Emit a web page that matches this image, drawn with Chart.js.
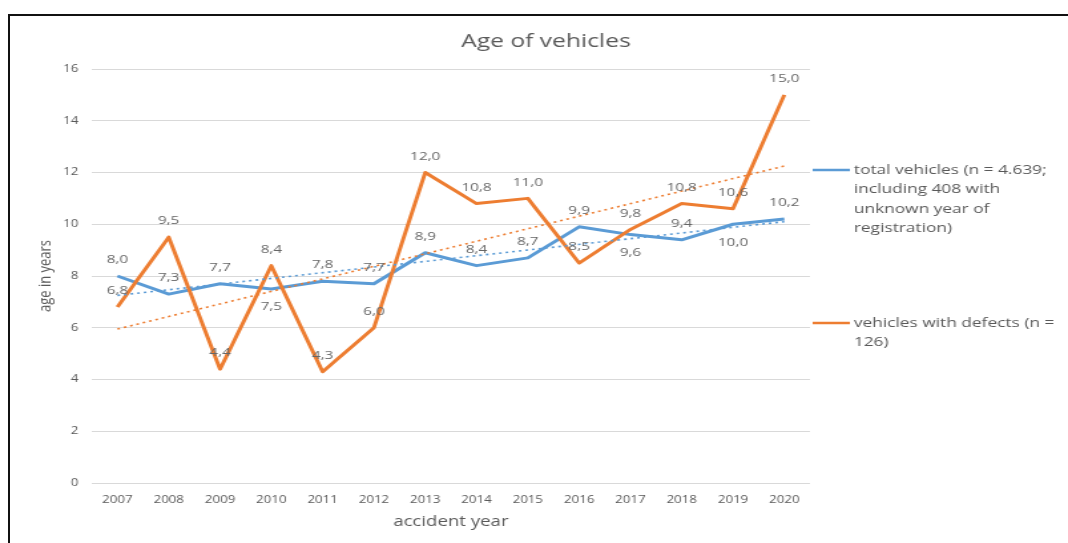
<!DOCTYPE html>
<html>
<head>
<meta charset="utf-8">
<script src="https://cdn.jsdelivr.net/npm/chart.js@4"></script>
<style>
    body { margin: 0; background: #fff; overflow: hidden; }
    #frame {
        position: absolute; left: 8px; top: 14px; width: 1080px; height: 560px;
        border-top: 2px solid #111; border-left: 2px solid #111;
    }
    #chart {
        position: absolute; left: 0; top: 0; width: 803px; height: 543px;
        transform: scaleX(1.33); transform-origin: 0 0;
    }
</style>
</head>
<body>
<canvas id="chart" width="803" height="543"></canvas>
<div id="frame"></div>
<script>
const years = ['2007', '2008', '2009', '2010', '2011', '2012', '2013', '2014', '2015', '2016', '2017', '2018', '2019', '2020'];
const totalVehicles = [8.0, 7.3, 7.7, 7.5, 7.8, 7.7, 8.9, 8.4, 8.7, 9.9, 9.6, 9.4, 10.0, 10.2];
const defectVehicles = [6.8, 9.5, 4.4, 8.4, 4.3, 6.0, 12.0, 10.8, 11.0, 8.5, 9.8, 10.8, 10.6, 15.0];
// dotted trend lines, start and end
const totalTrendEnds = [7.25, 10.1];
const defectTrendEnds = [5.95, 12.25];
const yTicks = [0, 2, 4, 6, 8, 10, 12, 14, 16];

const totalLegend = ['total vehicles (n = 4.639;', 'including 408 with', 'unknown year of', 'registration)'];
const defectLegend = ['vehicles with defects (n =', '126)'];
// labels of the blue series that sit under the line
const totalLabelsBelow = [3, 10, 12];

const grey = '#595959';
const blue = '#5B9BD5';
const orange = '#ED7D31';
const fontFamily = "'Open Sans', sans-serif";

function endsOnly(ends) {
    return years.map(function (y, i) {
        if (i === 0) return ends[0];
        if (i === years.length - 1) return ends[1];
        return null;
    });
}

const extras = {
    id: 'extras',
    afterDatasetsDraw: function (chart) {
        const ctx = chart.ctx;
        ctx.save();
        ctx.font = '11.5px ' + fontFamily;
        ctx.fillStyle = '#666';
        ctx.textAlign = 'center';
        ctx.textBaseline = 'middle';
        [2, 3].forEach(function (di) {
            const meta = chart.getDatasetMeta(di);
            const values = chart.data.datasets[di].data;
            meta.data.forEach(function (pt, i) {
                const below = di === 3 && totalLabelsBelow.indexOf(i) >= 0;
                const text = values[i].toFixed(1).replace('.', ',');
                ctx.fillText(text, pt.x, below ? pt.y + 18 : pt.y - 16);
            });
        });
        ctx.restore();
    },
    afterDraw: function (chart) {
        const ctx = chart.ctx;
        ctx.save();
        ctx.fillStyle = grey;
        ctx.textBaseline = 'middle';
        ctx.textAlign = 'center';
        ctx.font = '18.5px ' + fontFamily;
        ctx.fillText('Age of vehicles', 410.5, 42);

        ctx.textAlign = 'left';
        ctx.font = '13px ' + fontFamily;
        const legendX = chart.chartArea.right + 2;
        [[blue, totalLegend, 170], [orange, defectLegend, 323]].forEach(function (item) {
            ctx.strokeStyle = item[0];
            ctx.lineWidth = 2.5;
            ctx.beginPath();
            ctx.moveTo(legendX, item[2]);
            ctx.lineTo(legendX + 28, item[2]);
            ctx.stroke();
            item[1].forEach(function (line, k) {
                ctx.fillText(line, legendX + 31, item[2] + k * 19.5);
            });
        });
        ctx.restore();
    }
};

Chart.defaults.font.family = fontFamily;
Chart.defaults.color = grey;

new Chart(document.getElementById('chart'), {
    type: 'line',
    data: {
        labels: years,
        datasets: [{
            data: endsOnly(defectTrendEnds),
            borderColor: orange,
            borderWidth: 1.6,
            borderDash: [2, 3],
            spanGaps: true,
            pointRadius: 0
        }, {
            data: endsOnly(totalTrendEnds),
            borderColor: blue,
            borderWidth: 1.6,
            borderDash: [2, 3],
            spanGaps: true,
            pointRadius: 0
        }, {
            label: 'vehicles with defects (n = 126)',
            data: defectVehicles,
            borderColor: orange,
            borderWidth: 3,
            borderJoinStyle: 'round',
            pointRadius: 0,
            tension: 0
        }, {
            label: 'total vehicles (n = 4.639; including 408 with unknown year of registration)',
            data: totalVehicles,
            borderColor: blue,
            borderWidth: 3,
            borderJoinStyle: 'round',
            pointRadius: 0,
            tension: 0
        }]
    },
    options: {
        responsive: false,
        animation: false,
        devicePixelRatio: 1,
        layout: {
            padding: { left: 8, right: 194, top: 69, bottom: 8 }
        },
        plugins: {
            legend: { display: false },
            title: { display: false },
            tooltip: { enabled: false }
        },
        scales: {
            x: {
                offset: true,
                grid: { display: false },
                border: { display: false },
                ticks: { padding: 3, font: { size: 10 }, color: grey },
                title: {
                    display: true,
                    text: 'accident year',
                    font: { size: 14 },
                    color: grey,
                    padding: { top: 0, bottom: 5 }
                },
                afterFit: function (scale) { scale.height = 52; }
            },
            y: {
                min: 0,
                max: 16,
                afterBuildTicks: function (scale) {
                    scale.ticks = yTicks.map(function (v) { return { value: v }; });
                },
                grid: { color: '#d9d9d9', lineWidth: 1, drawTicks: false },
                border: { display: false },
                ticks: { padding: 10, font: { size: 10 }, color: grey },
                title: {
                    display: true,
                    text: 'age in years',
                    font: { size: 13 },
                    color: grey,
                    padding: { top: 18, bottom: 0 }
                },
                afterFit: function (scale) { scale.width = 61; }
            }
        }
    },
    plugins: [extras]
});
</script>
</body>
</html>
